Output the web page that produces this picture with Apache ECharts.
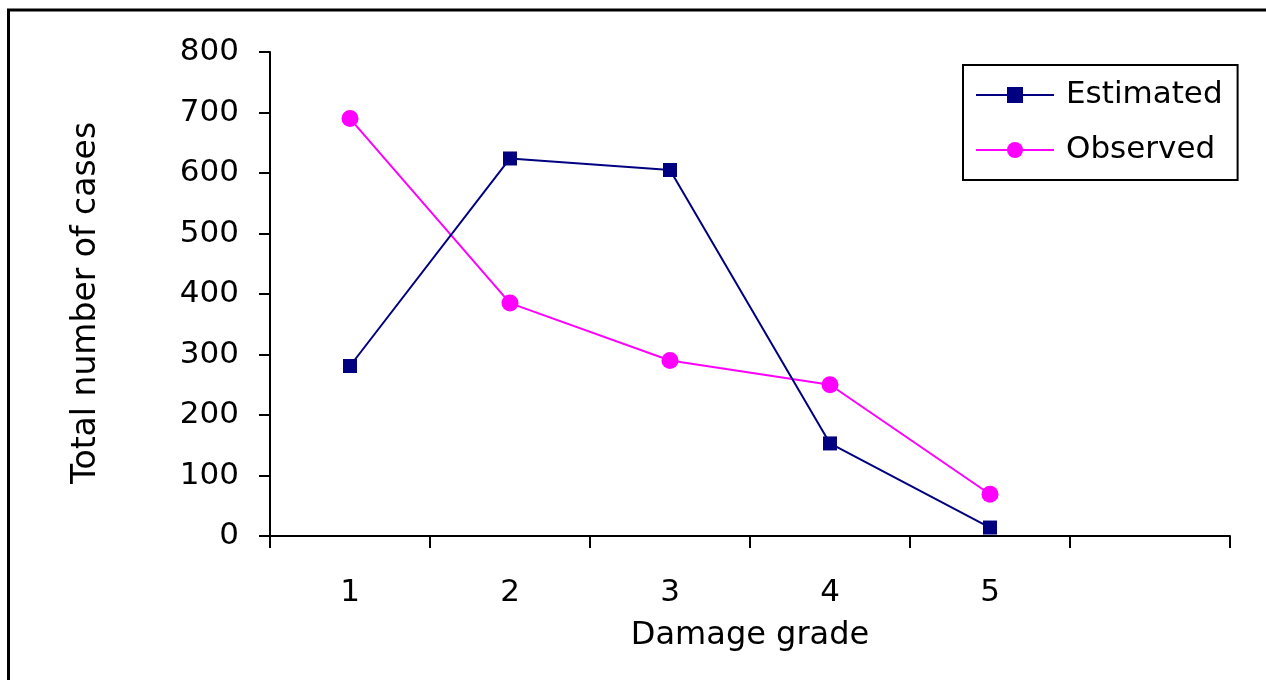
<!DOCTYPE html>
<html>
<head>
<meta charset="utf-8">
<script src="https://cdn.jsdelivr.net/npm/echarts@6/dist/echarts.min.js"></script>
<style>
  html, body { margin: 0; padding: 0; background: #fff; }
  #chart { width: 1266px; height: 680px; }
</style>
</head>
<body>
<div id="chart"></div>
<script>
// Damage grades on the x axis; the sixth slot is left empty
const grades = ['1', '2', '3', '4', '5', ''];
const estimated = [281, 624, 605, 153, 14];
const observed = [690, 385, 290, 250, 69];
const yTicks = { min: 0, max: 800, interval: 100 };

const FONT = '"DejaVu Sans", Verdana, sans-serif';

const chart = echarts.init(document.getElementById('chart'), null, { renderer: 'canvas' });

chart.setOption({
  backgroundColor: '#ffffff',
  animation: false,
  graphic: [{
    type: 'rect',
    shape: { x: 8.5, y: 10, width: 1400, height: 900 },
    style: { fill: 'none', stroke: '#000', lineWidth: 3 },
    silent: true
  }],
  grid: { left: 270, right: 36, top: 52, bottom: 144 },
  legend: {
    orient: 'vertical',
    left: 963,
    top: 65,
    padding: [13, 15, 13, 12],
    itemWidth: 78,
    itemHeight: 20,
    itemGap: 21,
    borderColor: '#000',
    borderWidth: 2,
    backgroundColor: '#fff',
    textStyle: { fontFamily: FONT, fontSize: 31, color: '#000', lineHeight: 34, padding: [0, 0, 0, 7] },
    data: ['Estimated', 'Observed']
  },
  xAxis: {
    type: 'category',
    data: grades,
    boundaryGap: true,
    name: 'Damage grade',
    nameLocation: 'middle',
    nameGap: 84,
    nameTextStyle: { fontFamily: FONT, fontSize: 32, color: '#000' },
    axisLine: { show: true, lineStyle: { color: '#000', width: 2 } },
    axisTick: { show: true, interval: 0, length: 12, lineStyle: { color: '#000', width: 2 } },
    axisLabel: { interval: 0, margin: 41, fontFamily: FONT, fontSize: 31, color: '#000' },
    splitLine: { show: false }
  },
  yAxis: {
    type: 'value',
    min: yTicks.min,
    max: yTicks.max,
    interval: yTicks.interval,
    name: 'Total number of cases',
    nameLocation: 'middle',
    nameGap: 167,
    nameRotate: 90,
    nameTextStyle: { fontFamily: FONT, fontSize: 33, color: '#000', padding: [0, 18, 0, 0] },
    axisLine: { show: true, lineStyle: { color: '#000', width: 2 } },
    axisTick: { show: true, length: 11, lineStyle: { color: '#000', width: 2 } },
    axisLabel: { margin: 31, fontFamily: FONT, fontSize: 31, color: '#000' },
    splitLine: { show: false }
  },
  series: [
    {
      name: 'Estimated',
      type: 'line',
      data: estimated,
      symbol: 'rect',
      symbolSize: 14,
      color: '#000080',
      lineStyle: { color: '#000080', width: 2 },
      itemStyle: { color: '#000080' },
      z: 3
    },
    {
      name: 'Observed',
      type: 'line',
      data: observed,
      symbol: 'circle',
      symbolSize: 17,
      color: '#ff00ff',
      lineStyle: { color: '#ff00ff', width: 2 },
      itemStyle: { color: '#ff00ff' },
      z: 2
    }
  ]
});
</script>
</body>
</html>
